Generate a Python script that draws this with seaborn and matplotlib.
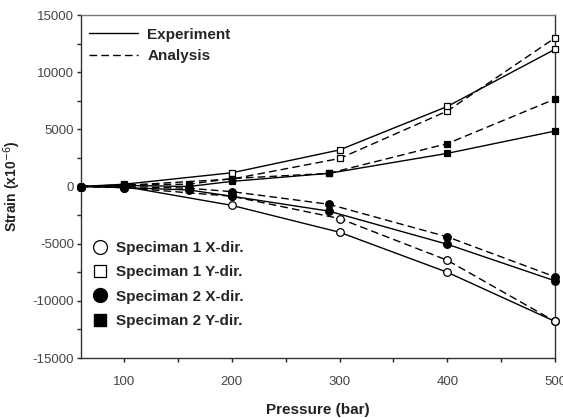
import matplotlib
matplotlib.use("Agg")
import matplotlib.pyplot as plt
from matplotlib.lines import Line2D
from matplotlib.ticker import MultipleLocator
import seaborn as sns
import pandas as pd

sns.set_theme(style="ticks")
plt.rcParams['font.family'] = ['Liberation Sans', 'DejaVu Sans']
plt.rcParams['axes.unicode_minus'] = False

# Data
pressure_s1 = [60, 100, 200, 300, 400, 500]
s1x_exp = [0, 0, -1650, -4000, -7500, -11800]
s1x_ana = [0, -100, -850, -2800, -6450, -11800]
s1y_exp = [0, 200, 1200, 3200, 7000, 12000]
s1y_ana = [0, 100, 650, 2450, 6600, 13000]

pressure_s2 = [60, 100, 160, 200, 290, 400, 500]
s2x_exp = [0, -100, -300, -850, -2150, -5050, -8250]
s2x_ana = [0, 0, -150, -450, -1550, -4400, -7900]
s2y_exp = [0, 100, 0, 450, 1150, 2900, 4850]
s2y_ana = [0, 150, 200, 700, 1150, 3750, 7650]

series_labels = ["Speciman 1 X-dir.", "Speciman 1 Y-dir.",
                 "Speciman 2 X-dir.", "Speciman 2 Y-dir."]
line_labels = ["Experiment", "Analysis"]
x_label = "Pressure (bar)"
y_label = "Strain (x10$^{-6}$)"

fig = plt.figure(figsize=(5.63, 4.18), dpi=100)
ax = fig.add_axes([0.1439, 0.1435, 0.8419, 0.8206])

dash = (0, (5.5, 3))
specs = [
    (pressure_s1, s1x_exp, s1x_ana, "o", 5.5, "white"),
    (pressure_s1, s1y_exp, s1y_ana, "s", 4.6, "white"),
    (pressure_s2, s2x_exp, s2x_ana, "o", 5.5, "black"),
    (pressure_s2, s2y_exp, s2y_ana, "s", 4.6, "black"),
]
for px, ye, ya, mk, ms, fc in specs:
    for yy, ls in ((ya, dash), (ye, "-")):
        df = pd.DataFrame({"p": px, "s": yy})
        sns.lineplot(data=df, x="p", y="s", ax=ax, color="black", linewidth=1.0,
                     linestyle=ls, marker=mk, markersize=ms, markerfacecolor=fc,
                     markeredgecolor="black", markeredgewidth=0.9, legend=False,
                     zorder=3, clip_on=False)

ax.set_xlim(60, 500)
ax.set_ylim(-15000, 15000)
ax.xaxis.set_major_locator(MultipleLocator(100))
ax.xaxis.set_minor_locator(MultipleLocator(50))
ax.yaxis.set_major_locator(MultipleLocator(5000))
ax.yaxis.set_minor_locator(MultipleLocator(2500))
ax.set_xticks([100, 200, 300, 400, 500])
ax.tick_params(axis="both", which="both", direction="out", length=3, width=1,
               color="#222222", labelsize=9.5, labelcolor="#444444")
ax.tick_params(axis="y", which="both", pad=2)
ax.tick_params(axis="x", which="major", pad=10)
for sp in ax.spines.values():
    sp.set_visible(True)
    sp.set_color("#333333")
    sp.set_linewidth(1.0)
ax.spines["top"].set_color("#777777")

ax.set_xlabel(x_label, fontsize=11, fontweight="bold", color="#222222", labelpad=11)
ax.set_ylabel(y_label, fontsize=10, fontweight="bold", color="#222222", labelpad=7)

line_handles = [Line2D([0], [0], color="black", lw=1.0, ls="-"),
                Line2D([0], [0], color="black", lw=1.0, ls=dash)]
leg1 = ax.legend(line_handles, line_labels, loc="center left", frameon=False,
                 bbox_to_anchor=(0.001, 0.911), handlelength=3.2, handletextpad=0.6,
                 labelspacing=0.5, borderaxespad=0.0, borderpad=0.5,
                 prop={"weight": "bold", "size": 11})
ax.add_artist(leg1)

marker_handles = [
    Line2D([0], [0], ls="none", marker="o", ms=10, mfc="white", mec="black", mew=0.9),
    Line2D([0], [0], ls="none", marker="s", ms=9, mfc="white", mec="black", mew=0.9),
    Line2D([0], [0], ls="none", marker="o", ms=10, mfc="black", mec="black"),
    Line2D([0], [0], ls="none", marker="s", ms=9, mfc="black", mec="black"),
]
ax.legend(marker_handles, series_labels, loc="center left", frameon=False,
          bbox_to_anchor=(0.0085, 0.2143), handlelength=1.0, handletextpad=0.5,
          labelspacing=0.68, borderaxespad=0.0, borderpad=0.5,
          prop={"weight": "bold", "size": 11})

fig.savefig("out.png", dpi=100)
